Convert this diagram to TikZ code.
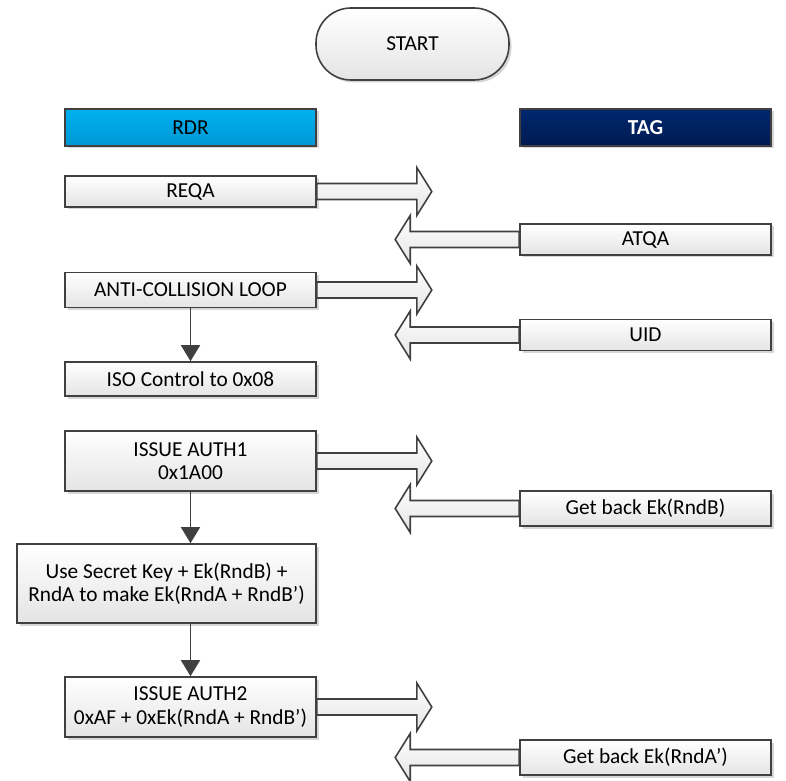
\documentclass[tikz,border=0pt]{standalone}
\usepackage{fontspec}
\setmainfont{Carlito}
\usetikzlibrary{shadows,arrows.meta,calc}
\newdimen\px \px=0.75pt
\definecolor{bordergray}{HTML}{404040}
\definecolor{boxgray}{HTML}{E4E4E4}
\definecolor{rdrtop}{HTML}{00B2F0}
\definecolor{rdrbot}{HTML}{0096D4}
\definecolor{tagtop}{HTML}{00286E}
\definecolor{tagbot}{HTML}{001A52}
\begin{document}
\begin{tikzpicture}[x=0.75pt,y=-0.75pt,
  base/.style={draw=bordergray, line width=1.6\px, font=\fontsize{16}{17.5}\selectfont,
    align=center, inner sep=0pt,
    drop shadow={shadow xshift=2.5\px, shadow yshift=-2.5\px, fill=black, opacity=0.16}},
  pbox/.style={base, top color=white, bottom color=boxgray, minimum height=#1\px, minimum width=251\px},
  blockarrow/.style={draw=bordergray, line width=1.6\px, top color=white, bottom color=boxgray, line join=miter},
  varrow/.style={draw=bordergray, line width=1.6\px, -{Triangle[length=12pt, width=14.25pt]}}
]
\useasboundingbox (0,0) rectangle (786,781);

% start
\node[base, rounded corners=35\px, minimum width=193\px, minimum height=72\px,
      top color=white, bottom color=boxgray] (start) at (412.5,44) {START};

% headers
\node[base, minimum width=251\px, minimum height=37\px, top color=rdrtop, bottom color=rdrbot] (rdr) at (190.5,127.5) {RDR};
\node[base, minimum width=251\px, minimum height=37\px, top color=tagtop, bottom color=tagbot,
      text=white, font=\fontsize{16}{17.5}\selectfont\bfseries] (tag) at (645.5,127.5) {TAG};

% reader boxes
\node[pbox=31] (reqa) at (190.5,191.5) {REQA};
\node[pbox=35] (anti) at (190.5,290) {ANTI-COLLISION LOOP};
\node[pbox=34] (iso) at (190.5,379) {ISO Control to 0x08};
\node[pbox=60] (auth1) at (190.5,461) {ISSUE AUTH1\\0x1A00};
\node[pbox=79, minimum width=299\px] (use) at (166.5,583.5) {Use Secret Key + Ek(RndB) +\\RndA to make Ek(RndA + RndB’)};
\node[pbox=60] (auth2) at (190.5,707) {ISSUE AUTH2\\0xAF + 0xEk(RndA + RndB’)};

% tag boxes
\node[pbox=31] (atqa) at (645.5,239.5) {ATQA};
\node[pbox=31] (uid) at (645.5,335) {UID};
\node[pbox=35] (rndb) at (645.5,508.5) {Get back Ek(RndB)};
\node[pbox=35] (rnda) at (645.5,757.5) {Get back Ek(RndA’)};

% block arrows to the right
\foreach \n in {reqa,anti,auth1,auth2}{
  \draw[blockarrow] ($(\n.east)+(0,-8)$) -- ++(100,0) -- ++(0,-16) -- ++(15,24)
     -- ++(-15,24) -- ++(0,-16) -- ++(-100,0) -- cycle;
}
% block arrows to the left
\foreach \n in {atqa,uid,rndb,rnda}{
  \draw[blockarrow] ($(\n.west)+(0,-8)$) -- ++(-109,0) -- ++(0,-16) -- ++(-15,24)
     -- ++(15,24) -- ++(0,-16) -- ++(109,0) -- cycle;
}

% vertical connectors
\draw[varrow] (anti.south) -- (iso.north);
\draw[varrow] (auth1.south) -- (auth1.south |- use.north);
\draw[varrow] (auth2.north |- use.south) -- (auth2.north);
\end{tikzpicture}
\end{document}
